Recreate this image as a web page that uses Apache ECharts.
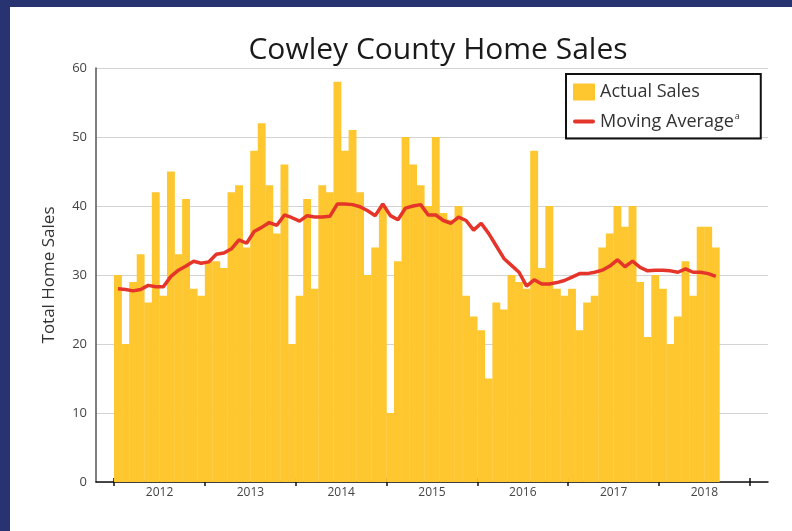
<!DOCTYPE html>
<html>
<head>
<meta charset="utf-8">
<title>Cowley County Home Sales</title>
<script src="https://cdn.jsdelivr.net/npm/echarts@6/dist/echarts.min.js"></script>
<style>
    html, body { margin: 0; padding: 0; background: #283371; }
    #chart { position: absolute; left: 10px; top: 7px; width: 782px; height: 524px; background: #fff; }
</style>
</head>
<body>
<div id="chart"></div>
<script>
// monthly values, Jan 2012 .. Aug 2018
const startYear = 2012;
const sales = [
    30, 20, 29, 33, 26, 42, 27, 45, 33, 41, 28, 27,
    32, 32, 31, 42, 43, 34, 48, 52, 43, 36, 46, 20,
    27, 41, 28, 43, 42, 58, 48, 51, 42, 30, 34, 40,
    10, 32, 50, 46, 43, 40, 50, 39, 38, 40, 27, 24,
    22, 15, 26, 25, 30, 29, 28, 48, 31, 40, 28, 27,
    28, 22, 26, 27, 34, 36, 40, 37, 40, 29, 21, 30,
    28, 20, 24, 32, 27, 37, 37, 34
];
const movingAvg = [
    28.0, 27.9, 27.7, 27.9, 28.5, 28.3, 28.3, 29.8, 30.7, 31.3, 32.0, 31.7,
    31.9, 33.0, 33.2, 33.8, 35.1, 34.6, 36.3, 36.9, 37.6, 37.2, 38.7, 38.3,
    37.8, 38.6, 38.4, 38.4, 38.5, 40.3, 40.3, 40.2, 39.9, 39.3, 38.6, 40.3,
    38.6, 38.0, 39.7, 40.0, 40.2, 38.7, 38.7, 37.9, 37.5, 38.4, 37.9, 36.5,
    37.5, 36.0, 34.2, 32.4, 31.4, 30.4, 28.4, 29.3, 28.7, 28.7, 28.9, 29.2,
    29.7, 30.2, 30.2, 30.4, 30.7, 31.3, 32.2, 31.2, 32.0, 31.1, 30.6, 30.7,
    30.7, 30.6, 30.4, 30.9, 30.4, 30.4, 30.2, 29.8
];
const yearTicks = [2012, 2013, 2014, 2015, 2016, 2017, 2018, 2019];
const yearLabels = [2012, 2013, 2014, 2015, 2016, 2017, 2018];

const xMin = 2011.8;
const xMax = 2019.2;
const font = '"Open Sans", "Lato", sans-serif';

const grid = { left: 86, right: 24, top: 61, bottom: 49 };
// one bar per month, no gaps
const monthPx = (782 - grid.left - grid.right) / ((xMax - xMin) * 12);

const monthX = i => startYear + (i + 0.5) / 12;

const myChart = echarts.init(document.getElementById('chart'));

const option = {
    animation: false,
    textStyle: { fontFamily: font },
    graphic: [{
        type: 'text',
        x: 428,
        y: 43,
        style: {
            text: 'Cowley County Home Sales',
            font: '30px ' + font,
            fill: '#1a1a1a',
            align: 'center',
            verticalAlign: 'middle'
        }
    }],
    legend: {
        orient: 'vertical',
        left: 556,
        top: 67,
        padding: [9, 21, 8, 7],
        itemGap: 11,
        itemWidth: 22,
        itemHeight: 17,
        borderColor: '#111',
        borderWidth: 2,
        data: [
            { name: 'Actual Sales', icon: 'rect' },
            // plain thick line, no marker
            { name: 'Moving Average', icon: 'path://M2,0 L20,0 A2,2 0 0 1 20,4 L2,4 A2,2 0 0 1 2,0 Z' }
        ],
        formatter: name => name === 'Moving Average' ? '{n|Moving Average}{s|a}' : '{n|' + name + '}',
        textStyle: {
            rich: {
                n: { fontSize: 18, color: '#333', fontFamily: font },
                s: { fontSize: 9, color: '#333', fontFamily: font, padding: [0, 0, 10, 1] }
            }
        }
    },
    grid: grid,
    xAxis: [{
        type: 'value',
        min: xMin,
        max: xMax,
        axisLine: { show: true, lineStyle: { color: '#111', width: 1.5 } },
        axisTick: { show: true, customValues: yearTicks, length: 4, lineStyle: { color: '#111', width: 1.5 } },
        axisLabel: {
            customValues: yearLabels.map(y => y + 0.5),
            formatter: v => String(Math.floor(v)),
            fontSize: 12,
            color: '#444',
            margin: 5
        },
        splitLine: { show: false }
    }, {
        // upper half of the year ticks
        type: 'value',
        position: 'bottom',
        min: xMin,
        max: xMax,
        axisLine: { show: false },
        axisTick: { show: true, inside: true, customValues: yearTicks, length: 4, lineStyle: { color: '#111', width: 1.5 } },
        axisLabel: { show: false },
        splitLine: { show: false }
    }],
    yAxis: {
        type: 'value',
        min: 0,
        max: 60,
        interval: 10,
        name: 'Total Home Sales',
        nameLocation: 'middle',
        nameGap: 38,
        nameTextStyle: { fontSize: 17, color: '#333' },
        axisLine: { show: true, lineStyle: { color: '#555', width: 1.5 } },
        axisTick: { show: false },
        axisLabel: { fontSize: 13, color: '#444', margin: 9 },
        splitLine: { lineStyle: { color: '#d3d3d3', width: 1 } }
    },
    series: [
        {
            name: 'Actual Sales',
            type: 'bar',
            xAxisIndex: 0,
            barWidth: monthPx + 0.3,
            itemStyle: { color: '#FEC62F' },
            data: sales.map((v, i) => [monthX(i), v]),
            z: 2
        },
        {
            name: 'Moving Average',
            type: 'line',
            xAxisIndex: 0,
            symbol: 'none',
            lineStyle: { color: '#E5352A', width: 3.5 },
            itemStyle: { color: '#E5352A' },
            data: movingAvg.map((v, i) => [monthX(i), v]),
            z: 3
        }
    ]
};
myChart.setOption(option);
</script>
</body>
</html>
